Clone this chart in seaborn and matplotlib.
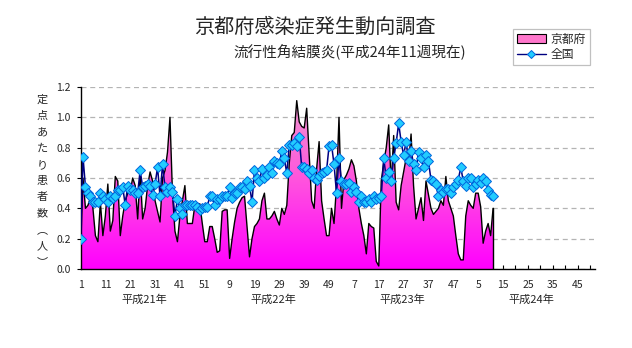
import numpy as np
import pandas as pd
import matplotlib
matplotlib.use("Agg")
import matplotlib.pyplot as plt
import seaborn as sns
from matplotlib.colors import LinearSegmentedColormap
from matplotlib.patches import Patch
from matplotlib.lines import Line2D

# ---------------- data ----------------
years = ["平成21年", "平成22年", "平成23年", "平成24年"]
weeks_per_year = [52, 52, 52, 52]

kyoto_h21 = [0.10, 0.60, 0.40, 0.42, 0.47, 0.40, 0.22, 0.18, 0.44, 0.22,
             0.35, 0.56, 0.25, 0.32, 0.61, 0.58, 0.22, 0.35, 0.45, 0.50,
             0.51, 0.60, 0.55, 0.33, 0.64, 0.33, 0.40, 0.55, 0.64, 0.58,
             0.45, 0.38, 0.31, 0.60, 0.65, 0.77, 1.00, 0.50, 0.25, 0.18,
             0.35, 0.45, 0.55, 0.30, 0.30, 0.30, 0.42, 0.42, 0.43, 0.30,
             0.18, 0.18]
kyoto_h22 = [0.28, 0.28, 0.20, 0.11, 0.12, 0.38, 0.39, 0.39, 0.07, 0.20,
             0.31, 0.40, 0.44, 0.47, 0.48, 0.28, 0.08, 0.20, 0.28, 0.30,
             0.33, 0.45, 0.50, 0.33, 0.33, 0.35, 0.38, 0.33, 0.29, 0.40,
             0.36, 0.42, 0.70, 0.88, 0.90, 1.11, 0.97, 0.94, 0.93, 1.06,
             0.75, 0.45, 0.40, 0.66, 0.84, 0.45, 0.33, 0.22, 0.22, 0.40,
             0.30, 0.55]
kyoto_h23 = [1.00, 0.40, 0.59, 0.62, 0.66, 0.72, 0.68, 0.58, 0.40, 0.30,
             0.22, 0.10, 0.30, 0.28, 0.27, 0.05, 0.02, 0.58, 0.70, 0.80,
             0.95, 0.55, 0.88, 0.44, 0.39, 0.55, 0.64, 0.73, 0.70, 0.89,
             0.55, 0.33, 0.40, 0.47, 0.32, 0.58, 0.49, 0.40, 0.36, 0.38,
             0.40, 0.45, 0.42, 0.61, 0.45, 0.40, 0.35, 0.22, 0.10, 0.06,
             0.06, 0.35]
kyoto_h24 = [0.45, 0.42, 0.40, 0.50, 0.50, 0.41, 0.17, 0.25, 0.30, 0.22, 0.40]

zenkoku_h21 = [0.20, 0.74, 0.54, 0.50, 0.48, 0.44, 0.44, 0.44, 0.50, 0.48,
               0.46, 0.44, 0.48, 0.47, 0.48, 0.52, 0.52, 0.54, 0.42, 0.55,
               0.52, 0.52, 0.50, 0.50, 0.65, 0.54, 0.55, 0.56, 0.55, 0.49,
               0.56, 0.67, 0.48, 0.69, 0.54, 0.51, 0.54, 0.51, 0.35, 0.46,
               0.40, 0.36, 0.42, 0.42, 0.42, 0.42, 0.42, 0.41, 0.39, 0.40,
               0.41, 0.41]
zenkoku_h22 = [0.48, 0.48, 0.42, 0.46, 0.46, 0.48, 0.48, 0.48, 0.54, 0.47,
               0.50, 0.50, 0.54, 0.54, 0.53, 0.58, 0.55, 0.44, 0.65, 0.60,
               0.58, 0.66, 0.60, 0.62, 0.67, 0.63, 0.71, 0.70, 0.69, 0.78,
               0.73, 0.63, 0.82, 0.82, 0.83, 0.81, 0.87, 0.67, 0.67, 0.66,
               0.63, 0.65, 0.60, 0.59, 0.61, 0.63, 0.64, 0.65, 0.81, 0.82,
               0.69, 0.50]
zenkoku_h23 = [0.73, 0.58, 0.56, 0.56, 0.57, 0.51, 0.54, 0.51, 0.44, 0.48,
               0.44, 0.44, 0.46, 0.44, 0.48, 0.46, 0.47, 0.48, 0.73, 0.60,
               0.64, 0.58, 0.73, 0.83, 0.96, 0.84, 0.75, 0.84, 0.71, 0.78,
               0.69, 0.65, 0.77, 0.73, 0.67, 0.75, 0.71, 0.59, 0.58, 0.56,
               0.48, 0.52, 0.51, 0.53, 0.53, 0.50, 0.54, 0.56, 0.59, 0.67,
               0.58, 0.55]
zenkoku_h24 = [0.60, 0.60, 0.54, 0.56, 0.59, 0.57, 0.60, 0.58, 0.52, 0.49, 0.48]

title = "京都府感染症発生動向調査"
subtitle = "流行性角結膜炎(平成24年11週現在)"
series_names = ["京都府", "全国"]
ylabel_chars = ["定", "点", "あ", "た", "り", "患", "者", "数", "︵", "人", "︶"]
y_ticks = [0.0, 0.2, 0.4, 0.6, 0.8, 1.0, 1.2]

kyoto = kyoto_h21 + kyoto_h22 + kyoto_h23 + kyoto_h24
national = zenkoku_h21 + zenkoku_h22 + zenkoku_h23 + zenkoku_h24
df = pd.DataFrame({"idx": np.arange(len(kyoto)), "kyoto": kyoto, "national": national})

n_total = sum(weeks_per_year)
starts = np.concatenate([[0], np.cumsum(weeks_per_year)[:-1]])
week_label = []
for i in range(n_total):
    y = np.searchsorted(starts, i, side="right") - 1
    week_label.append(str(i - starts[y] + 1))

# ---------------- figure ----------------
sns.set_theme(style="white")
plt.rcParams["font.family"] = ["Noto Sans CJK JP", "DejaVu Sans"]

W, H = 632, 348
fig = plt.figure(figsize=(W / 100, H / 100), dpi=100)
fig.patch.set_facecolor("white")
ax = fig.add_axes([80.5 / W, 1 - 269 / H, (595 - 80.5) / W, 182 / H])
ax.set_facecolor("white")

# gridlines behind
ax.set_axisbelow(True)
ax.yaxis.grid(True, linestyle=(0, (4, 3)), color="#B4B4B4", lw=0.9)
ax.xaxis.grid(False)

# gradient area for Kyoto
poly = ax.fill_between(df["idx"], 0, df["kyoto"], color="none", lw=0, zorder=2)
cmap = LinearSegmentedColormap.from_list("pk", ["#FF00FF", "#FF55DD", "#EEA0CC"])
grad = np.linspace(0, 1, 256).reshape(-1, 1)
im = ax.imshow(grad, cmap=cmap, origin="lower", aspect="auto",
               extent=[0, n_total - 1, 0, 1.2], zorder=2, interpolation="bilinear")
im.set_clip_path(poly.get_paths()[0], transform=ax.transData)
ax.set_xlim(0, n_total - 1)
ax.set_ylim(0, 1.2)

sns.lineplot(data=df, x="idx", y="kyoto", color="black", lw=1.0, ax=ax, zorder=3)
last = df["idx"].iloc[-1]
ax.plot([last, last], [df["kyoto"].iloc[-1], 0], color="black", lw=1.0, zorder=3)

sns.lineplot(data=df, x="idx", y="national", color="#000080", lw=1.1, ax=ax,
             marker="D", markersize=4.8, markerfacecolor="#22CCFF",
             markeredgecolor="#0066DD", markeredgewidth=0.7, zorder=4)
ax.set_xlim(0, n_total - 1)
ax.set_ylim(0, 1.2)

# axes styling
for s in ["top", "right"]:
    ax.spines[s].set_visible(False)
for s in ["left", "bottom"]:
    ax.spines[s].set_color("black")
    ax.spines[s].set_linewidth(1.0)
ax.set_xlabel("")
ax.set_ylabel("")

major = list(range(0, n_total, 10))
ax.set_xticks(major)
ax.set_xticklabels([week_label[i] for i in major])
ax.set_xticks(list(range(0, n_total, 5)), minor=True)
ax.tick_params(axis="x", which="both", direction="in", length=3, width=0.8,
               color="black", labelsize=7.5, pad=8, bottom=True)
ax.set_yticks(y_ticks)
ax.set_yticklabels([f"{v:.1f}" for v in y_ticks])
ax.tick_params(axis="y", direction="out", length=3, width=0.8, color="black",
               labelsize=7.5, pad=4, left=True)

# year labels
for k, yl in enumerate(years):
    cx = starts[k] + weeks_per_year[k] / 2 - 0.5
    ax.text(cx, -(300 - 269) / 182, yl, transform=ax.get_xaxis_transform(),
            ha="center", va="center", fontsize=8)

# vertical y label
ys = np.linspace(100, 262, len(ylabel_chars))
for ch, yy in zip(ylabel_chars, ys):
    fig.text(42 / W, 1 - yy / H, ch, ha="center", va="center", fontsize=8)

# titles
fig.text(315 / W, 1 - 27 / H, title, ha="center", va="center", fontsize=14.5)
fig.text(350 / W, 1 - 52 / H, subtitle, ha="center", va="center", fontsize=10.5)

# legend
handles = [Patch(facecolor="#FF77CC", edgecolor="black", lw=0.8, label=series_names[0]),
           Line2D([0], [0], color="#000080", lw=1.0, marker="D", markersize=4,
                  markerfacecolor="#22CCFF", markeredgecolor="#0066DD",
                  markeredgewidth=0.7, label=series_names[1])]
leg = fig.legend(handles=handles, loc="upper left", bbox_to_anchor=(513 / W, 1 - 29 / H),
                 frameon=True, fancybox=False, edgecolor="#C0C0C0", fontsize=8.5,
                 handlelength=2.5, handleheight=0.7, borderpad=0.3, labelspacing=0.25,
                 handletextpad=0.4, borderaxespad=0, framealpha=1)
leg.get_frame().set_linewidth(0.9)

fig.savefig("out.png", dpi=100, facecolor="white")
